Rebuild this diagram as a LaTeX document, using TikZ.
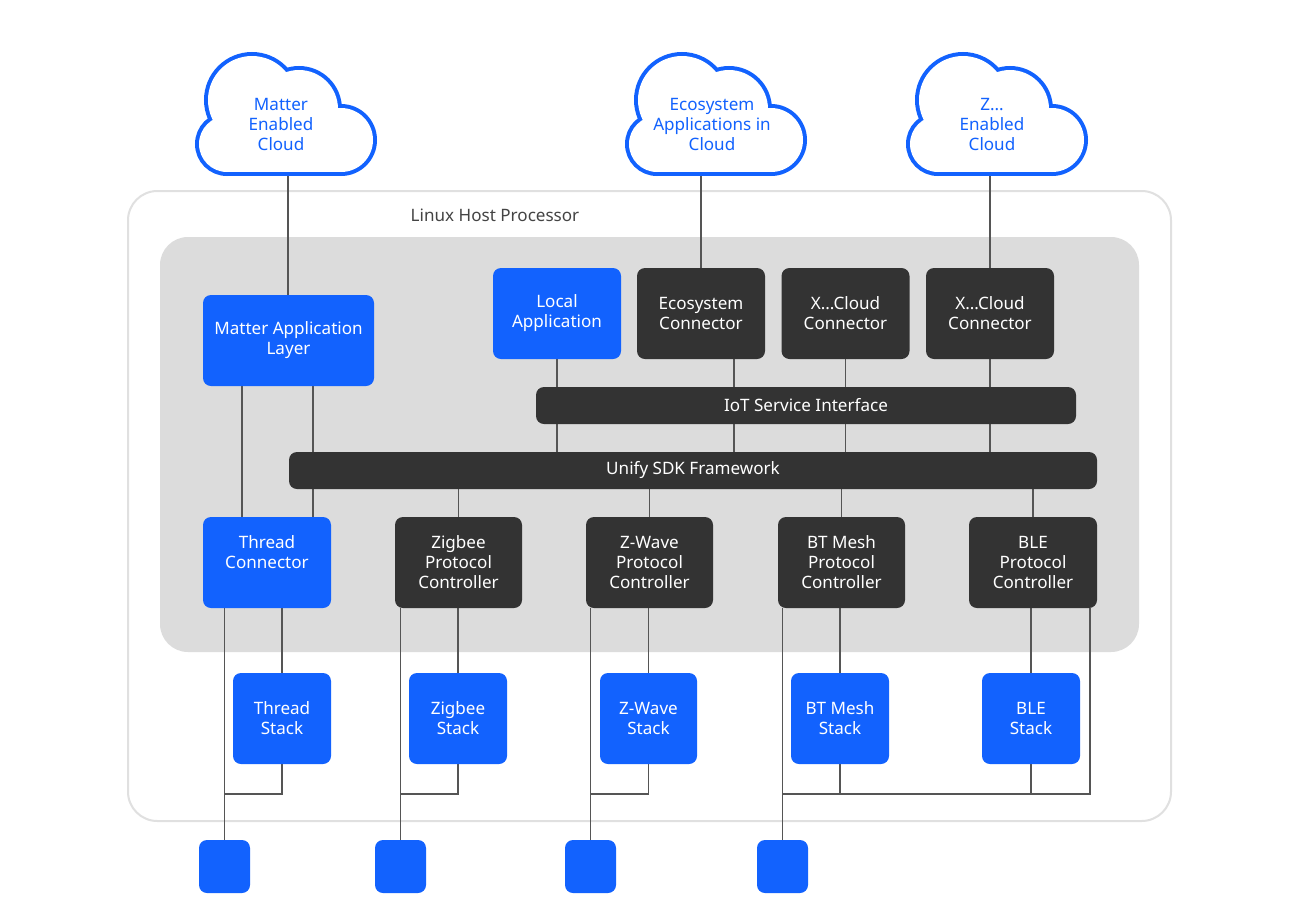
\documentclass[tikz,border=0pt]{standalone}
\usepackage{fontspec}
\setmainfont{Noto Sans}
\definecolor{ublue}{HTML}{1262FE}
\definecolor{udark}{HTML}{333333}
\definecolor{upanel}{HTML}{DCDCDC}
\definecolor{uborder}{HTML}{E0E0E0}
\definecolor{uline}{HTML}{555555}
\definecolor{utext}{HTML}{444444}
\pgfdeclarelayer{bg}
\pgfdeclarelayer{wires}
\pgfsetlayers{bg,wires,main}
\tikzset{
  box/.style={rounded corners=6pt, text=white, align=center, inner sep=0pt,
    font=\fontsize{12.8}{15}\selectfont},
  bluebox/.style={box, fill=ublue},
  darkbox/.style={box, fill=udark},
  sz/.style 2 args={minimum width={#1*0.75pt}, minimum height={#2*0.75pt}},
  wire/.style={draw=uline, line width=0.9pt},
  cloudtext/.style={text=ublue, align=center, font=\fontsize{12.8}{15}\selectfont},
  cloudshape/.pic={
    \foreach \cx/\cy/\r in {32/92/28, 57/48/44, 104/57/39, 146/88/32}
      \draw[ublue, line width=6pt] (\cx,\cy) circle[radius=\r];
    \draw[ublue, line width=6pt] (32,80) rectangle (146,120);
    \foreach \cx/\cy/\r in {32/92/28, 57/48/44, 104/57/39, 146/88/32}
      \fill[white] (\cx,\cy) circle[radius=\r];
    \fill[white] (32,80) rectangle (146,120);
  }
}
\begin{document}
\begin{tikzpicture}[x=0.75pt,y=-0.75pt]
\useasboundingbox (0,0) rectangle (1300,918);

% panels
\begin{pgfonlayer}{bg}
  \fill[white] (0,0) rectangle (1300,918);
  \draw[uborder, fill=white, line width=1.5pt, rounded corners=22pt] (128,191) rectangle (1171,821);
  \fill[upanel, rounded corners=21pt] (160,237) rectangle (1139,652);
\end{pgfonlayer}
\node[text=utext, font=\fontsize{12.8}{15}\selectfont] (lhp) at (495,215) {Linux Host Processor};

% clouds
\pic at (195,52) {cloudshape};
\pic at (625,52) {cloudshape};
\pic at (906,52) {cloudshape};
\node[cloudtext] (mcl) at (281,124) {Matter\\Enabled\\Cloud};
\node[cloudtext] (ecl) at (712,124) {Ecosystem\\Applications in\\Cloud};
\node[cloudtext] (zcl) at (992,124) {Z...\\Enabled\\Cloud};
\coordinate (mcb) at (288,172);
\coordinate (ecb) at (701,172);
\coordinate (zcb) at (990,172);

% upper boxes
\node[bluebox, sz={171}{91}] (mal) at (288.5,340.5) {Matter Application\\Layer};
\node[bluebox, sz={128}{91}] (loc) at (557,313.5) {Local\\Application};
\node[darkbox, sz={128}{91}] (eco) at (701,313.5) {Ecosystem\\Connector};
\node[darkbox, sz={128}{91}] (xc1) at (845.5,313.5) {X...Cloud\\Connector};
\node[darkbox, sz={128}{91}] (xc2) at (990,313.5) {X...Cloud\\Connector};
\node[darkbox, sz={540}{37}] (iot) at (806,405.5) {IoT Service Interface};
\node[darkbox, sz={808}{37}] (usdk) at (693,470.5) {Unify SDK Framework};

% protocol controllers
\node[bluebox, sz={128}{91}] (thr) at (267,562.5) {Thread\\Connector\\\mbox{}};
\node[darkbox, sz={127}{91}] (zpc) at (458.5,562.5) {Zigbee\\Protocol\\Controller};
\node[darkbox, sz={127}{91}] (wpc) at (649.5,562.5) {Z-Wave\\Protocol\\Controller};
\node[darkbox, sz={127}{91}] (bpc) at (841.5,562.5) {BT Mesh\\Protocol\\Controller};
\node[darkbox, sz={128}{91}] (lpc) at (1033,562.5) {BLE\\Protocol\\Controller};

% stacks
\node[bluebox, sz={98}{91}] (ts) at (282,718.5) {Thread\\Stack};
\node[bluebox, sz={98}{91}] (zs) at (458,718.5) {Zigbee\\Stack};
\node[bluebox, sz={97}{91}] (ws) at (648.5,718.5) {Z-Wave\\Stack};
\node[bluebox, sz={98}{91}] (bs) at (840,718.5) {BT Mesh\\Stack};
\node[bluebox, sz={98}{91}] (ls) at (1031,718.5) {BLE\\Stack};

% radios
\node[bluebox, sz={51}{53}] (sq1) at (224.5,866.5) {};
\node[bluebox, sz={51}{53}] (sq2) at (400.5,866.5) {};
\node[bluebox, sz={51}{53}] (sq3) at (590.5,866.5) {};
\node[bluebox, sz={51}{53}] (sq4) at (782.5,866.5) {};

% helper coordinates
\coordinate (c242) at (242,0);
\coordinate (c313) at (313,0);
\coordinate (c734) at (734,0);
\coordinate (c1090) at (1090,0);
\coordinate (c794) at (0,794);

\begin{pgfonlayer}{wires}
  \draw[wire] (mcb) -- (mcb |- mal.north);
  \draw[wire] (ecb) -- (ecb |- eco.north);
  \draw[wire] (zcb) -- (zcb |- xc2.north);
  \draw[wire] (mal.south -| c242) -- (thr.north -| c242);
  \draw[wire] (mal.south -| c313) -- (thr.north -| c313);
  \draw[wire] (loc.south) -- (usdk.north -| loc.south);
  \draw[wire] (eco.south -| c734) -- (usdk.north -| c734);
  \draw[wire] (xc1.south) -- (usdk.north -| xc1.south);
  \draw[wire] (xc2.south) -- (usdk.north -| xc2.south);
  \draw[wire] (usdk.south -| zpc.north) -- (zpc.north);
  \draw[wire] (usdk.south -| wpc.north) -- (wpc.north);
  \draw[wire] (usdk.south -| bpc.north) -- (bpc.north);
  \draw[wire] (usdk.south -| lpc.north) -- (lpc.north);
  % thread
  \draw[wire] (thr.south -| sq1.north) -- (sq1.north);
  \draw[wire] (thr.south -| ts.north) -- (ts.north);
  \draw[wire] (ts.south) -- (ts.south |- c794) -- (sq1 |- c794);
  % zigbee
  \draw[wire] (zpc.south -| sq2.north) -- (sq2.north);
  \draw[wire] (zpc.south -| zs.north) -- (zs.north);
  \draw[wire] (zs.south) -- (zs.south |- c794) -- (sq2 |- c794);
  % z-wave
  \draw[wire] (wpc.south -| sq3.north) -- (sq3.north);
  \draw[wire] (wpc.south -| ws.north) -- (ws.north);
  \draw[wire] (ws.south) -- (ws.south |- c794) -- (sq3 |- c794);
  % bt mesh + ble
  \draw[wire] (bpc.south -| sq4.north) -- (sq4.north);
  \draw[wire] (bpc.south -| bs.north) -- (bs.north);
  \draw[wire] (bs.south) -- (bs.south |- c794);
  \draw[wire] (lpc.south -| ls.north) -- (ls.north);
  \draw[wire] (ls.south) -- (ls.south |- c794);
  \draw[wire] (lpc.south -| c1090) -- (c1090 |- c794) -- (sq4 |- c794);
\end{pgfonlayer}
\end{tikzpicture}
\end{document}
